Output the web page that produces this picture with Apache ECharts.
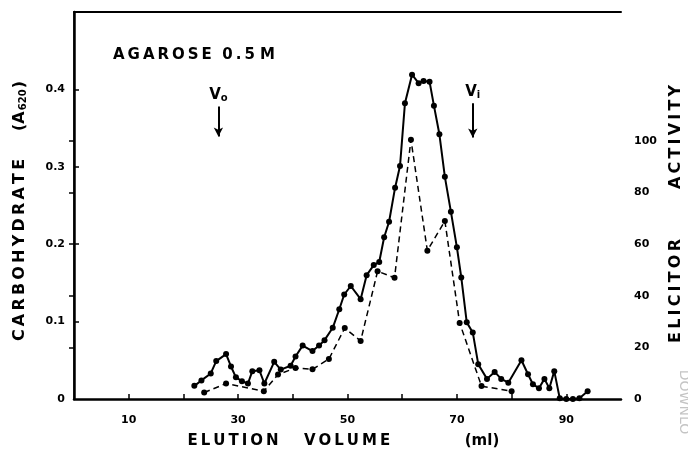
<!DOCTYPE html>
<html>
<head>
<meta charset="utf-8">
<script src="https://cdn.jsdelivr.net/npm/echarts@6/dist/echarts.min.js"></script>
<style>html,body{margin:0;padding:0;background:#fff}#c{width:688px;height:457px}</style>
</head>
<body>
<div id="c"></div>
<script>
// Carbohydrate (A620), solid line, left axis
const carbX = [22.0,23.3,25.0,26.0,27.8,28.7,29.6,30.7,31.8,32.6,33.9,34.8,36.6,37.8,39.6,40.5,41.8,43.6,44.8,45.8,47.3,48.5,49.4,50.6,52.4,53.5,54.8,55.8,56.7,57.6,58.7,59.6,60.5,61.8,63.0,63.9,65.0,65.8,66.8,67.8,68.9,70.0,70.8,71.8,72.9,73.9,75.5,76.9,78.1,79.4,81.8,83.0,83.9,85.0,86.0,86.9,87.8,88.8,90.0,91.2,92.4,93.9];
const carbY = [0.017,0.024,0.033,0.049,0.058,0.042,0.028,0.023,0.020,0.036,0.037,0.020,0.048,0.038,0.043,0.055,0.069,0.062,0.069,0.076,0.092,0.116,0.135,0.146,0.129,0.160,0.173,0.177,0.209,0.229,0.273,0.301,0.382,0.419,0.408,0.411,0.410,0.379,0.342,0.287,0.242,0.196,0.157,0.099,0.086,0.045,0.026,0.035,0.026,0.021,0.050,0.032,0.019,0.014,0.026,0.014,0.036,0.001,0.000,0.000,0.001,0.010];
// Elicitor activity, dashed line, right axis
const elicX = [23.8,27.8,34.7,37.3,40.5,43.6,46.6,49.5,52.4,55.5,58.6,61.6,64.6,67.8,70.5,74.5,80.0];
const elicY = [2.5,6,3,9.5,12,11.5,15.5,27.5,22.5,49.5,47,100.5,57.5,69,29.5,5,3];
// Axis ticks and labels
const xTicks = [10,20,30,40,50,60,70,80,90];
const xLabels = [10,30,50,70,90];
const leftTicks = [0.1,0.2,0.3,0.4];
const leftLabels = [0,0.1,0.2,0.3,0.4];
const rightTicks = [20,40,60,80,100];
const rightLabels = [0,20,40,60,80,100];
// Void / included volume markers
const voX = 26.4, viX = 72.9;

const sp = s => s.split('').join('\u2009');
const F = 'DejaVu Sans';
const chart = echarts.init(document.getElementById('c'));
const lab = {fontFamily:F, fontWeight:'bold', fontSize:11, color:'#000'};
const arrowLabel = (sub) => ({
  show:true, position:'start', distance:3,
  formatter:'{v|V}{s|'+sub+'}',
  rich:{v:{fontFamily:F,fontWeight:'bold',fontSize:15,color:'#000'},
        s:{fontFamily:F,fontWeight:'bold',fontSize:10,color:'#000',verticalAlign:'bottom',padding:[7,0,0,0]}}
});
chart.setOption({
  animation:false,
  backgroundColor:'#fff',
  grid:{left:74,top:12,width:547,height:387},
  xAxis:[
    {type:'value',min:0,max:100,interval:10,position:'bottom',
    axisLine:{lineStyle:{color:'#000',width:2.5}},
    axisTick:{inside:true,length:5,lineStyle:{width:1.5,color:'#000'},customValues:xTicks},
    axisLabel:Object.assign({margin:16,customValues:xLabels},lab),
    splitLine:{show:false}},
    {type:'value',min:0,max:100,interval:10,position:'top',
    axisLine:{show:true,onZero:false,lineStyle:{color:'#000',width:2}},
    axisTick:{show:false},axisLabel:{show:false},splitLine:{show:false}}
  ],
  yAxis:[
    {type:'value',min:0,max:0.5,interval:0.1,position:'left',
     axisLine:{show:true,lineStyle:{color:'#000',width:2.5}},
     axisTick:{show:true,inside:true,length:5,lineStyle:{width:1.5,color:'#000'},customValues:leftTicks},
     axisLabel:Object.assign({margin:9,customValues:leftLabels,formatter:v=>v===0?'0':v.toFixed(1)},lab),
     splitLine:{show:false}},
    {type:'value',min:0,max:150,interval:10,position:'right',
     axisLine:{show:true,lineStyle:{color:'#000',width:1.5}},
     axisTick:{show:true,inside:true,length:5,lineStyle:{width:1.5,color:'#000'},customValues:rightTicks},
     axisLabel:Object.assign({margin:13,customValues:rightLabels},lab),
     splitLine:{show:false}}
  ],
  series:[
    {type:'line',yAxisIndex:0,data:carbX.map((x,i)=>[x,carbY[i]]),
     symbol:'circle',symbolSize:6,itemStyle:{color:'#000'},lineStyle:{color:'#000',width:2},
     markLine:{silent:true,symbol:['none','arrow'],symbolSize:[7,9],
       lineStyle:{color:'#000',width:2,type:'solid'},
       data:[
         [{coord:[voX,0.378],label:arrowLabel('o')},{coord:[voX,0.339]}],
         [{coord:[viX,0.382],label:arrowLabel('i')},{coord:[viX,0.338]}]
       ]}},
    {type:'line',yAxisIndex:1,data:elicX.map((x,i)=>[x,elicY[i]]),
     symbol:'circle',symbolSize:6,itemStyle:{color:'#000'},lineStyle:{color:'#000',width:1.5,type:[6,4]}}
  ],
  graphic:[
    {type:'text',left:113,top:48,style:{text:sp('AGAROSE')+'  '+sp('0.5')+' M',font:'bold 15px '+F,fill:'#000'}},
    {type:'text',x:20,y:250,rotation:Math.PI/2,style:{text:sp('CARBOHYDRATE'),font:'bold 16px '+F,fill:'#000',align:'center',verticalAlign:'middle'}},
    {type:'text',x:20,y:106,rotation:Math.PI/2,style:{text:'({a|A}{s|620})',font:'bold 16px '+F,fill:'#000',align:'center',verticalAlign:'middle',
      rich:{a:{font:'bold 16px '+F,fill:'#000'},s:{font:'bold 10px '+F,fill:'#000',padding:[6,1,0,1]}}}},
    {type:'text',x:676,y:291,rotation:Math.PI/2,style:{text:sp('ELICITOR'),font:'bold 16px '+F,fill:'#000',align:'center',verticalAlign:'middle'}},
    {type:'text',x:676,y:137,rotation:Math.PI/2,style:{text:sp('ACTIVITY'),font:'bold 16px '+F,fill:'#000',align:'center',verticalAlign:'middle'}},
    {type:'text',x:233,y:441,style:{text:sp('ELUTION'),font:'bold 15px '+F,fill:'#000',align:'center',verticalAlign:'middle'}},
    {type:'text',x:347,y:441,style:{text:sp('VOLUME'),font:'bold 15px '+F,fill:'#000',align:'center',verticalAlign:'middle'}},
    {type:'text',x:482,y:441,style:{text:'(ml)',font:'bold 15px '+F,fill:'#000',align:'center',verticalAlign:'middle'}},
    {type:'text',x:684,y:402,rotation:-Math.PI/2,style:{text:'DOWNLO',font:'14px '+F,fill:'#c4c4c4',align:'center',verticalAlign:'middle'}}
  ]
});
</script>
</body>
</html>
